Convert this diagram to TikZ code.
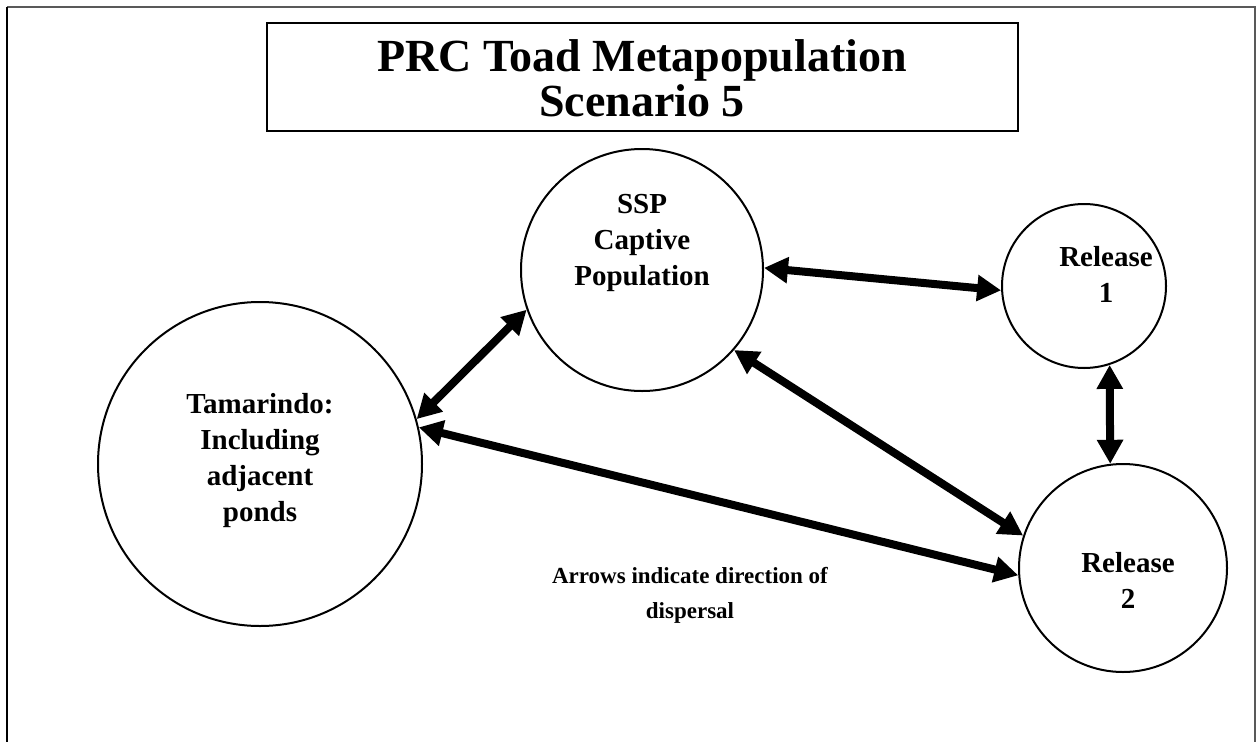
\documentclass[tikz,border=0pt]{standalone}
\usepackage{fontspec}
\setmainfont{Liberation Serif}
\usetikzlibrary{arrows.meta}
\begin{document}
\begin{tikzpicture}[x=1pt,y=-1pt,
  pop/.style={circle, draw, line width=2pt, inner sep=0pt},
  lbl/.style={font=\bfseries\fontsize{29}{36}\selectfont, align=center, inner sep=0pt},
  link/.style={line width=8pt, {Triangle[length=24pt,width=25pt]}-{Triangle[length=24pt,width=25pt]}}]
\useasboundingbox (0,0) rectangle (1256,742);
% outer frame
\draw[gray!70!black, line width=2pt] (7,7) -- (1255,7) -- (1255,742);
\draw[black, line width=1.5pt] (7,7) -- (7,742);
% title
\node[draw, line width=2.5pt, minimum width=751pt, minimum height=108pt, inner sep=0pt] (titlebox) at (642.5,77) {};
\node[font=\bfseries\fontsize{46}{45}\selectfont, align=center, inner sep=0pt] (title) at (642,78) {PRC Toad Metapopulation\\Scenario 5};
% populations
\node[pop, minimum size=242pt] (ssp) at (642,270) {};
\node[pop, minimum size=164pt] (r1) at (1084,286) {};
\node[pop, minimum size=208pt] (r2) at (1123,568) {};
\node[pop, minimum size=324pt] (tam) at (260,464) {};
\node[lbl] (ssptext) at (642,243) {SSP\\Captive\\Population};
\node[lbl] (r1text) at (1106,274) {Release\\1};
\node[lbl] (r2text) at (1128,580) {Release\\2};
\node[lbl] (tamtext) at (260,461) {Tamarindo:\\Including\\adjacent\\ponds};
\node[font=\bfseries\fontsize{23}{35}\selectfont, align=center, inner sep=0pt] (note) at (690,595) {Arrows indicate direction of\\dispersal};
% connectors
\draw[link] (ssp.1) -- (r1.183);
\draw[link] (ssp.199) -- (tam.16);
\draw[link] (r1.288) -- (r2.97);
\draw[link] (ssp.319) -- (r2.162);
\draw[link] (tam.13) -- (r2.184);
\end{tikzpicture}
\end{document}
